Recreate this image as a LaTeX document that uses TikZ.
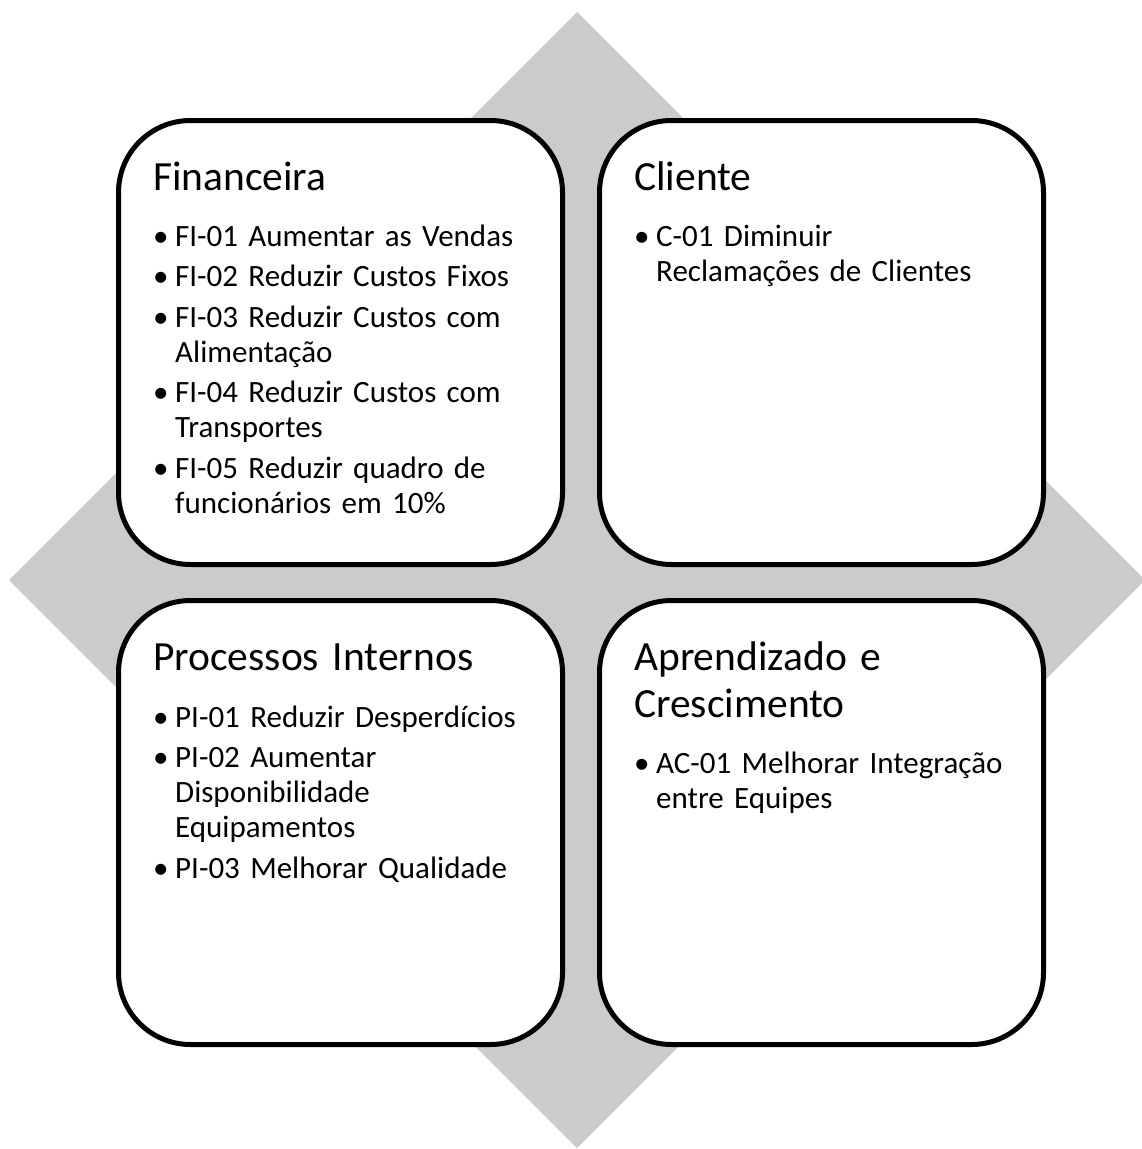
\documentclass[tikz,border=0pt]{standalone}
\usepackage{fontspec}
\setmainfont{Carlito}
\usepackage{xcolor}
\usepackage{tikz}
\usetikzlibrary{positioning}

\definecolor{losango}{RGB}{203,203,203}
\newcommand{\liststart}{\raggedright\leftskip=22pt\parskip=5.5pt\relax}
\newcommand{\bitem}[1]{\leavevmode\llap{\makebox[22pt][l]{•}}#1\par}

\begin{document}
\begin{tikzpicture}[x=1pt, y=-1pt]
    % Define styles
    \tikzstyle{quadro} = [rectangle, draw, line width=5pt, rounded corners=72pt, fill=white, minimum width=444pt, minimum height=444pt, inner sep=0pt]
    \tikzstyle{titulo} = [anchor=base west, inner sep=0pt, text width=420pt, align=left, font=\fontsize{41.5}{47}\selectfont]
    \tikzstyle{lista} = [anchor=base west, inner sep=0pt, text width=420pt, font=\fontsize{31}{35}\selectfont]

    \useasboundingbox (0,0) rectangle (1142,1149);

    % Diamond behind
    \fill[losango] (577,12) -- (1145,580) -- (577,1148) -- (9,580) -- cycle;

    % Nodes
    \node[quadro] (fin) at (340.5,342.5) {};
    \node[quadro] (cli) [right=32pt of fin] {};
    \node[quadro] (proc) [below=31pt of fin] {};
    \node[quadro] (apr) [right=32pt of proc] {};

    \node[titulo] (tfin) at ([xshift=37pt, yshift=-72pt]fin.north west) {Financeira};
    \node[lista] (lfin) at ([xshift=37pt, yshift=-128pt]fin.north west) {\liststart
        \bitem{FI-01 Aumentar as Vendas}
        \bitem{FI-02 Reduzir Custos Fixos}
        \bitem{FI-03 Reduzir Custos com\\Alimentação}
        \bitem{FI-04 Reduzir Custos com\\Transportes}
        \bitem{FI-05 Reduzir quadro de\\funcionários em 10\%}};

    \node[titulo] (tcli) at ([xshift=37pt, yshift=-72pt]cli.north west) {Cliente};
    \node[lista] (lcli) at ([xshift=37pt, yshift=-128pt]cli.north west) {\liststart
        \bitem{C-01 Diminuir\\Reclamações de Clientes}};

    \node[titulo] (tproc) at ([xshift=37pt, yshift=-72pt]proc.north west) {Processos Internos};
    \node[lista] (lproc) at ([xshift=37pt, yshift=-129pt]proc.north west) {\liststart
        \bitem{PI-01 Reduzir Desperdícios}
        \bitem{PI-02 Aumentar\\Disponibilidade\\Equipamentos}
        \bitem{PI-03 Melhorar Qualidade}};

    \node[titulo] (tapr) at ([xshift=37pt, yshift=-72pt]apr.north west) {Aprendizado e\\Crescimento};
    \node[lista] (lapr) at ([xshift=37pt, yshift=-175pt]apr.north west) {\liststart
        \bitem{AC-01 Melhorar Integração\\entre Equipes}};
\end{tikzpicture}
\end{document}
